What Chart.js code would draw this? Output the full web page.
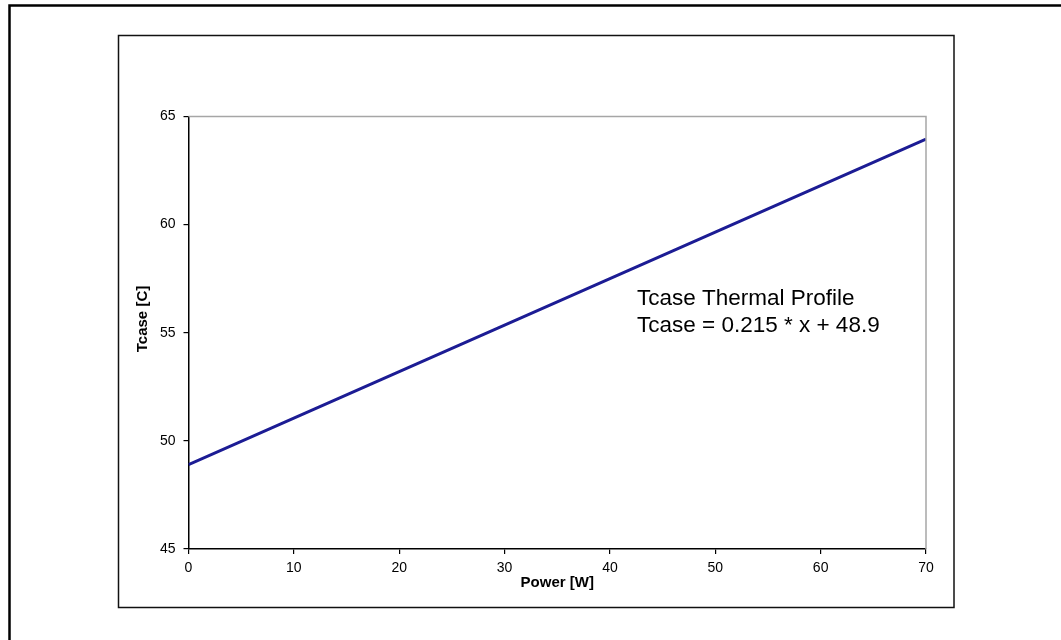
<!DOCTYPE html>
<html>
<head>
<meta charset="utf-8">
<script src="https://cdn.jsdelivr.net/npm/chart.js@4"></script>
<style>
  html, body { margin: 0; padding: 0; background: #fff; }
  #wrap { width: 1061px; height: 640px; }
</style>
</head>
<body>
<div id="wrap"><canvas id="c" width="1061" height="640"></canvas></div>
<script>
// ---- data ----
const powerW = [0, 10, 20, 30, 40, 50, 60, 70];
const tcaseC = [48.9, 51.05, 53.2, 55.35, 57.5, 59.65, 61.8, 63.95];
const xTickValues = [0, 10, 20, 30, 40, 50, 60, 70];
const yTickValues = [45, 50, 55, 60, 65];
const xTitle = 'Power [W]';
const yTitle = 'Tcase [C]';
const noteLines = ['Tcase Thermal Profile', 'Tcase = 0.215 * x + 48.9'];

const FONT = "'Liberation Sans', Arial, sans-serif";

const points = powerW.map((x, i) => ({ x: x, y: tcaseC[i] }));

const framePlugin = {
  id: 'frame',
  beforeDraw(chart) {
    const ctx = chart.ctx;
    ctx.save();
    ctx.fillStyle = '#fff';
    ctx.fillRect(0, 0, chart.width, chart.height);
    // outer frame
    ctx.strokeStyle = '#000';
    ctx.lineWidth = 2.5;
    ctx.beginPath();
    ctx.moveTo(9.5, chart.height + 5);
    ctx.lineTo(9.5, 5.5);
    ctx.lineTo(chart.width + 5, 5.5);
    ctx.stroke();
    // chart-area frame
    ctx.lineWidth = 1.5;
    ctx.strokeStyle = '#111';
    ctx.strokeRect(118.5, 35.5, 835.5, 572);
    ctx.restore();
  },
  afterDatasetsDraw(chart) {
    const ctx = chart.ctx;
    const a = chart.chartArea;
    ctx.save();
    ctx.strokeStyle = '#a6a6a6';
    ctx.lineWidth = 1.5;
    ctx.beginPath();
    ctx.moveTo(a.left, a.top);
    ctx.lineTo(a.right, a.top);
    ctx.lineTo(a.right, a.bottom);
    ctx.stroke();
    ctx.restore();
  },
  afterDraw(chart) {
    const ctx = chart.ctx;
    ctx.save();
    ctx.fillStyle = '#000';
    // y-axis title
    ctx.save();
    ctx.translate(143, 319);
    ctx.rotate(-Math.PI / 2);
    ctx.font = 'bold 15px ' + FONT;
    ctx.textAlign = 'center';
    ctx.textBaseline = 'middle';
    ctx.fillText(yTitle, 0, 0);
    ctx.restore();
    // annotation
    ctx.font = '22.5px ' + FONT;
    ctx.textBaseline = 'alphabetic';
    ctx.textAlign = 'left';
    noteLines.forEach((t, i) => ctx.fillText(t, 637, 305 + i * 27));
    ctx.restore();
  }
};

new Chart(document.getElementById('c'), {
  type: 'scatter',
  data: {
    datasets: [{
      data: points,
      showLine: true,
      borderColor: '#1c1c94',
      backgroundColor: '#1c1c94',
      borderWidth: 3,
      pointRadius: 0,
      tension: 0
    }]
  },
  options: {
    responsive: false,
    animation: false,
    devicePixelRatio: 1,
    layout: { padding: { left: 136, top: 116.5, right: 135, bottom: 48.6 } },
    plugins: { legend: { display: false }, tooltip: { enabled: false }, title: { display: false } },
    scales: {
      x: {
        type: 'linear',
        min: 0, max: 70,
        afterBuildTicks: s => { s.ticks = xTickValues.map(v => ({ value: v })); },
        afterFit: s => { s.height = 42.4; },
        ticks: { color: '#000', font: { family: FONT, size: 14 }, padding: 6, maxRotation: 0 },
        grid: { drawOnChartArea: false, drawTicks: true, tickLength: 5, color: '#000', lineWidth: 1.2 },
        border: { display: true, color: '#000', width: 1.5 },
        title: { display: true, text: xTitle, color: '#000', font: { family: FONT, size: 15, weight: 'bold' }, padding: { top: 0, bottom: 0 } }
      },
      y: {
        type: 'linear',
        min: 45, max: 65,
        afterBuildTicks: s => { s.ticks = yTickValues.map(v => ({ value: v })); },
        afterFit: s => { s.width = 52.5; },
        ticks: { color: '#000', font: { family: FONT, size: 14 }, padding: 8 },
        grid: { drawOnChartArea: false, drawTicks: true, tickLength: 5, color: '#000', lineWidth: 1.2 },
        border: { display: true, color: '#000', width: 1.5 },
        title: { display: false }
      }
    }
  },
  plugins: [framePlugin]
});
</script>
</body>
</html>
